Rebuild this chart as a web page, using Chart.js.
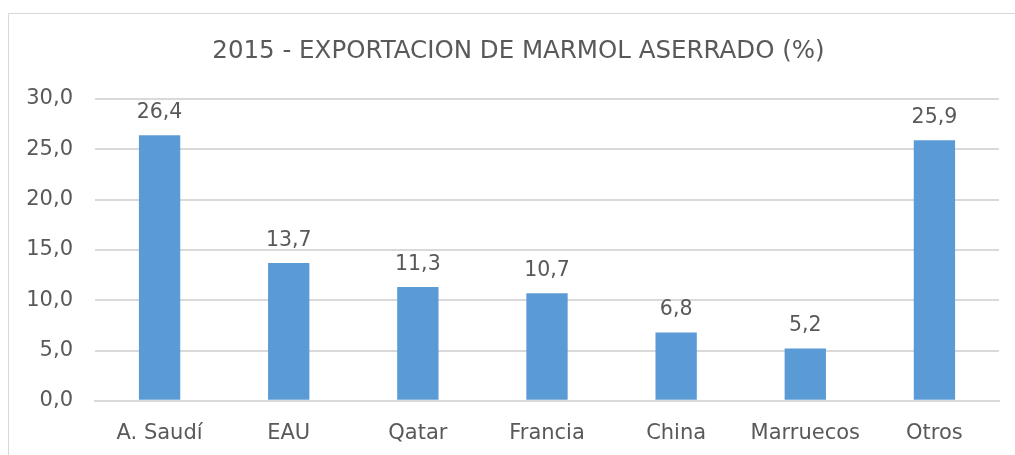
<!DOCTYPE html>
<html>
<head>
<meta charset="utf-8">
<script src="https://cdn.jsdelivr.net/npm/chart.js@4.4.1/dist/chart.umd.min.js"></script>
<style>
  html, body { margin: 0; padding: 0; background: #fff; overflow: hidden; }
  #box { position: absolute; left: 8px; top: 13px; width: 1021px; height: 467px; border: 1px solid #d9d9d9; }
  #box canvas { display: block; }
</style>
</head>
<body>
<div id="box"><canvas id="chart" width="1021" height="467"></canvas></div>
<script>
// 2015 - exportacion de marmol aserrado, % por destino
var categories = ["A. Saudí", "EAU", "Qatar", "Francia", "China", "Marruecos", "Otros"];
var shares = [26.4, 13.7, 11.3, 10.7, 6.8, 5.2, 25.9];
var yTicks = [0, 5, 10, 15, 20, 25, 30];

var textColor = '#595959';
var fontFamily = '"DejaVu Sans", Verdana, sans-serif';

function fmt(v) {
  return v.toFixed(1).replace('.', ',');
}

// labels above each bar
var barLabels = {
  id: 'barLabels',
  beforeDraw: function (chart) {
    // the y labels are wider than the axis box; don't let the box clip them
    chart.scales.y.left = 0;
  },
  afterDatasetsDraw: function (chart) {
    var ctx = chart.ctx;
    var meta = chart.getDatasetMeta(0);
    ctx.save();
    ctx.fillStyle = textColor;
    ctx.font = '20.5px ' + fontFamily;
    ctx.textAlign = 'center';
    ctx.textBaseline = 'alphabetic';
    meta.data.forEach(function (bar, i) {
      ctx.fillText(fmt(chart.data.datasets[0].data[i]), bar.x, bar.y - 17);
    });
    ctx.restore();
  }
};

new Chart(document.getElementById('chart').getContext('2d'), {
  type: 'bar',
  data: {
    labels: categories,
    datasets: [{
      data: shares,
      backgroundColor: '#5B9BD5',
      borderWidth: 0,
      categoryPercentage: 1,
      barPercentage: 0.32
    }]
  },
  options: {
    responsive: false,
    animation: false,
    layout: {
      padding: { left: 29, right: 31, top: 7, bottom: 15 }
    },
    plugins: {
      legend: { display: false },
      tooltip: { enabled: false },
      title: {
        display: true,
        text: '2015 - EXPORTACION DE MARMOL ASERRADO (%)',
        color: textColor,
        font: { family: fontFamily, size: 24.5, weight: 'normal', lineHeight: 1.2 },
        padding: { top: 16, bottom: 32.6 }
      }
    },
    scales: {
      y: {
        min: 0,
        max: 30,
        afterFit: function (scale) { scale.width = 57; },
        afterBuildTicks: function (scale) {
          scale.ticks = yTicks.map(function (v) { return { value: v }; });
        },
        border: { display: false },
        grid: {
          color: '#d9d9d9',
          lineWidth: 2,
          drawTicks: false
        },
        ticks: {
          padding: 22,
          color: textColor,
          font: { family: fontFamily, size: 21 },
          callback: function (v) { return fmt(v); }
        }
      },
      x: {
        border: { display: true, color: '#d9d9d9', width: 2 },
        grid: { display: false, drawTicks: false },
        ticks: {
          padding: 20,
          color: textColor,
          maxRotation: 0,
          font: { family: fontFamily, size: 21 }
        }
      }
    }
  },
  plugins: [barLabels]
});
</script>
</body>
</html>
